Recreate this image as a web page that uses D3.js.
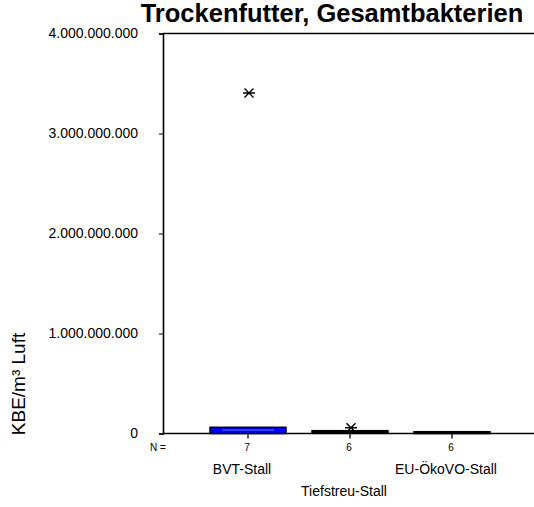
<!DOCTYPE html>
<html>
<head>
<meta charset="utf-8">
<script src="https://cdn.jsdelivr.net/npm/d3@7"></script>
<style>
  body { margin: 0; background: #fff; }
  text { font-family: Arial, "Liberation Sans", sans-serif; }
</style>
</head>
<body>
<div id="chart"></div>
<script>
// Daten
const categories = ["BVT-Stall", "Tiefstreu-Stall", "EU-ÖkoVO-Stall"];
const counts = [7, 6, 6];
const q1 = [0, 2e6, 0];
const median = [35e6, 12e6, 8e6];
const q3 = [62e6, 28e6, 18e6];
const outliers = [
  { cat: "BVT-Stall", value: 3.405e9 },
  { cat: "Tiefstreu-Stall", value: 58e6 }
];
const yTicks = [0, 1e9, 2e9, 3e9, 4e9];
const boxFill = ["#0000ff", "#000000", "#000000"];

const width = 534, height = 507;
const margin = { top: 33.5, right: 0, bottom: 73.5, left: 163 };

const svg = d3.select("#chart").append("svg")
  .attr("width", width)
  .attr("height", height);

const locale = d3.formatLocale({ decimal: ",", thousands: ".", grouping: [3], currency: ["", "€"] });
const fmt = locale.format(",");

const x = d3.scalePoint()
  .domain(categories)
  .range([248, 452]);

const y = d3.scaleLinear()
  .domain([0, 4e9])
  .range([height - margin.bottom, margin.top]);

const boxW = 76;

// Rahmen oben
svg.append("line")
  .attr("x1", margin.left).attr("x2", width)
  .attr("y1", y(4e9)).attr("y2", y(4e9))
  .attr("stroke", "#000").attr("stroke-width", 1.3);

// Y-Achse
const yAxis = svg.append("g")
  .attr("transform", `translate(${margin.left},0)`)
  .call(d3.axisLeft(y).tickValues(yTicks).tickFormat(fmt).tickSize(4).tickPadding(21));
yAxis.select(".domain").attr("stroke-width", 1.6);
yAxis.selectAll("text").attr("font-size", "14px").attr("font-family", "Arial, 'Liberation Sans', sans-serif");

// X-Achse
const xAxis = svg.append("g")
  .attr("transform", `translate(0,${y(0)})`);
xAxis.append("line")
  .attr("x1", margin.left).attr("x2", width)
  .attr("stroke", "#000").attr("stroke-width", 1.6);
xAxis.selectAll(".tick")
  .data(categories)
  .join("line")
  .attr("x1", d => x(d)).attr("x2", d => x(d))
  .attr("y1", 0).attr("y2", 5)
  .attr("stroke", "#000").attr("stroke-width", 1.3);

// Boxen
categories.forEach((c, i) => {
  const cx = x(c);
  svg.append("rect")
    .attr("x", cx - boxW / 2)
    .attr("width", boxW)
    .attr("y", y(q3[i]))
    .attr("height", y(q1[i]) - y(q3[i]))
    .attr("fill", boxFill[i])
    .attr("stroke", "#000")
    .attr("stroke-width", 1.5);
  if (i === 0) {
    svg.append("line")
      .attr("x1", cx - boxW / 2 + 12).attr("x2", cx + boxW / 2 - 12)
      .attr("y1", y(median[i])).attr("y2", y(median[i]))
      .attr("stroke", "#5a7cff").attr("stroke-width", 1);
  }
});

// Extremwerte (Sternchen)
const star = "M-6,0H6M-4.5,-4.5L4.5,4.5M-4.5,4.5L4.5,-4.5";
svg.selectAll(".outlier")
  .data(outliers)
  .join("path")
  .attr("class", "outlier")
  .attr("transform", d => `translate(${x(d.cat) + 1},${y(d.value)})`)
  .attr("d", star)
  .attr("stroke", "#000")
  .attr("stroke-width", 1.4)
  .attr("fill", "none");

// N =
svg.append("text")
  .attr("x", 150).attr("y", 451)
  .attr("font-size", "10px")
  .text("N =");

svg.selectAll(".count")
  .data(categories)
  .join("text")
  .attr("class", "count")
  .attr("x", d => x(d) - 1)
  .attr("y", 451)
  .attr("text-anchor", "middle")
  .attr("font-size", "10px")
  .text((d, i) => counts[i]);

// Kategorienbeschriftung (versetzt)
svg.selectAll(".cat")
  .data(categories)
  .join("text")
  .attr("class", "cat")
  .attr("x", d => x(d) - 6)
  .attr("y", (d, i) => i % 2 === 0 ? 474 : 496)
  .attr("text-anchor", "middle")
  .attr("font-size", "14px")
  .text(d => d);

// Y-Titel
svg.append("text")
  .attr("transform", "translate(25,384) rotate(-90)")
  .attr("text-anchor", "middle")
  .attr("font-size", "19px")
  .text("KBE/m³ Luft");

// Titel
svg.append("text")
  .attr("x", 332)
  .attr("y", 22)
  .attr("text-anchor", "middle")
  .attr("font-size", "25.5px")
  .attr("font-weight", "bold")
  .text("Trockenfutter, Gesamtbakterien");
</script>
</body>
</html>
